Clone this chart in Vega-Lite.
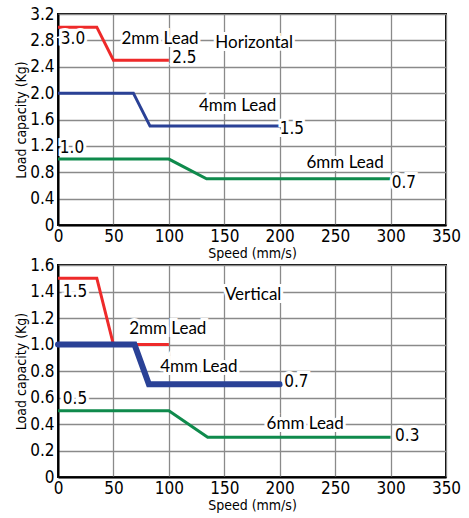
{
  "$schema": "https://vega.github.io/schema/vega-lite/v6.json",
  "padding": {"left": 13, "top": 4, "right": 5, "bottom": 5},
  "background": "white",
  "bounds": "flush",
  "spacing": 40,
  "config": {
    "view": {"stroke": "black", "strokeWidth": 2},
    "axis": {
      "labelFont": "DejaVu Sans Condensed",
      "labelFontSize": 17,
      "labelColor": "black",
      "titleFont": "DejaVu Sans Condensed",
      "titleFontSize": 14,
      "titleFontWeight": "normal",
      "titleColor": "black",
      "ticks": false,
      "domainColor": "black",
      "domainWidth": 2,
      "gridColor": "#8a8a8a",
      "gridWidth": 1.3,
      "gridOpacity": 1,
      "labelFlush": false,
      "labelOverlap": false
    }
  },
  "datasets": {
    "curves": [
      {"panel": "H", "lead": "2mm", "speed": 0, "load": 3.0},
      {"panel": "H", "lead": "2mm", "speed": 35, "load": 3.0},
      {"panel": "H", "lead": "2mm", "speed": 50, "load": 2.5},
      {"panel": "H", "lead": "2mm", "speed": 100, "load": 2.5},
      {"panel": "H", "lead": "4mm", "speed": 0, "load": 2.0},
      {"panel": "H", "lead": "4mm", "speed": 68, "load": 2.0},
      {"panel": "H", "lead": "4mm", "speed": 83, "load": 1.5},
      {"panel": "H", "lead": "4mm", "speed": 200, "load": 1.5},
      {"panel": "H", "lead": "6mm", "speed": 0, "load": 1.0},
      {"panel": "H", "lead": "6mm", "speed": 100, "load": 1.0},
      {"panel": "H", "lead": "6mm", "speed": 134, "load": 0.7},
      {"panel": "H", "lead": "6mm", "speed": 300, "load": 0.7},
      {"panel": "V", "lead": "2mm", "speed": 0, "load": 1.5},
      {"panel": "V", "lead": "2mm", "speed": 35, "load": 1.5},
      {"panel": "V", "lead": "2mm", "speed": 50, "load": 1.0},
      {"panel": "V", "lead": "2mm", "speed": 100, "load": 1.0},
      {"panel": "V", "lead": "4mm", "speed": 0, "load": 1.0},
      {"panel": "V", "lead": "4mm", "speed": 69, "load": 1.0},
      {"panel": "V", "lead": "4mm", "speed": 82, "load": 0.7},
      {"panel": "V", "lead": "4mm", "speed": 200, "load": 0.7},
      {"panel": "V", "lead": "6mm", "speed": 0, "load": 0.5},
      {"panel": "V", "lead": "6mm", "speed": 100, "load": 0.5},
      {"panel": "V", "lead": "6mm", "speed": 135, "load": 0.3},
      {"panel": "V", "lead": "6mm", "speed": 300, "load": 0.3}
    ],
    "notes": [
      {"panel": "H", "kind": "value", "label": "3.0", "speed": 13.5, "load": 2.82},
      {"panel": "H", "kind": "name", "label": "2mm Lead", "speed": 92, "load": 2.82},
      {"panel": "H", "kind": "value", "label": "2.5", "speed": 114, "load": 2.53},
      {"panel": "H", "kind": "name", "label": "Horizontal", "speed": 177, "load": 2.76},
      {"panel": "H", "kind": "name", "label": "4mm Lead", "speed": 162, "load": 1.8},
      {"panel": "H", "kind": "value", "label": "1.5", "speed": 211, "load": 1.46},
      {"panel": "H", "kind": "value", "label": "1.0", "speed": 12.6, "load": 1.17},
      {"panel": "H", "kind": "name", "label": "6mm Lead", "speed": 259, "load": 0.94},
      {"panel": "H", "kind": "value", "label": "0.7", "speed": 312, "load": 0.64},
      {"panel": "V", "kind": "value", "label": "1.5", "speed": 15.3, "load": 1.4},
      {"panel": "V", "kind": "name", "label": "Vertical", "speed": 176, "load": 1.37},
      {"panel": "V", "kind": "name", "label": "2mm Lead", "speed": 99, "load": 1.12},
      {"panel": "V", "kind": "name", "label": "4mm Lead", "speed": 127, "load": 0.83},
      {"panel": "V", "kind": "value", "label": "0.7", "speed": 215, "load": 0.72},
      {"panel": "V", "kind": "value", "label": "0.5", "speed": 15.3, "load": 0.59},
      {"panel": "V", "kind": "name", "label": "6mm Lead", "speed": 223, "load": 0.4},
      {"panel": "V", "kind": "value", "label": "0.3", "speed": 315, "load": 0.31}
    ]
  },
  "vconcat": [
    {
      "width": 388,
      "height": 211,
      "encoding": {
        "x": {"field": "speed", "type": "quantitative", "scale": {"domain": [0, 350], "nice": false},
              "axis": {"values": [0, 50, 100, 150, 200, 250, 300, 350], "format": "d", "title": "Speed (mm/s)", "labelPadding": 3, "titlePadding": 2}},
        "y": {"field": "load", "type": "quantitative", "scale": {"domain": [0, 3.2], "nice": false},
              "axis": {"values": [0, 0.4, 0.8, 1.2, 1.6, 2.0, 2.4, 2.8, 3.2], "labelExpr": "datum.value == 0 ? '0' : format(datum.value, '.1f')", "title": "Load capacity (Kg)", "labelPadding": 4, "titlePadding": 1}}
      },
      "layer": [
        {
          "data": {"name": "curves"},
          "transform": [{"filter": "datum.panel == 'H'"}],
          "mark": {"type": "line", "strokeWidth": 3, "strokeCap": "butt", "strokeJoin": "miter"},
          "encoding": {
            "color": {"field": "lead", "type": "nominal", "legend": null,
                      "scale": {"domain": ["2mm", "4mm", "6mm"], "range": ["#ee2a2a", "#2a4196", "#0f8a4c"]}}
          }
        },
        {
          "data": {"name": "notes"},
          "transform": [{"filter": "datum.panel == 'H' && datum.kind == 'value'"}],
          "layer": [
            {"mark": {"type": "text", "font": "DejaVu Sans Condensed", "fontSize": 17, "stroke": "white", "strokeWidth": 6, "fill": "white"},
             "encoding": {"text": {"field": "label"}}},
            {"mark": {"type": "text", "font": "DejaVu Sans Condensed", "fontSize": 17, "fill": "black"},
             "encoding": {"text": {"field": "label"}}}
          ]
        },
        {
          "data": {"name": "notes"},
          "transform": [{"filter": "datum.panel == 'H' && datum.kind == 'name'"}],
          "layer": [
            {"mark": {"type": "text", "font": "Lato", "fontSize": 17, "stroke": "white", "strokeWidth": 6, "fill": "white"},
             "encoding": {"text": {"field": "label"}}},
            {"mark": {"type": "text", "font": "Lato", "fontSize": 17, "fill": "black"},
             "encoding": {"text": {"field": "label"}}}
          ]
        }
      ]
    },
    {
      "width": 388,
      "height": 212,
      "encoding": {
        "x": {"field": "speed", "type": "quantitative", "scale": {"domain": [0, 350], "nice": false},
              "axis": {"values": [0, 50, 100, 150, 200, 250, 300, 350], "format": "d", "title": "Speed (mm/s)", "labelPadding": 3, "titlePadding": 2}},
        "y": {"field": "load", "type": "quantitative", "scale": {"domain": [0, 1.6], "nice": false},
              "axis": {"values": [0, 0.2, 0.4, 0.6, 0.8, 1.0, 1.2, 1.4, 1.6], "labelExpr": "datum.value == 0 ? '0' : format(datum.value, '.1f')", "title": "Load capacity (Kg)", "labelPadding": 4, "titlePadding": 1}}
      },
      "layer": [
        {
          "data": {"name": "curves"},
          "transform": [{"filter": "datum.panel == 'V' && datum.lead != '4mm'"}],
          "mark": {"type": "line", "strokeWidth": 3, "strokeCap": "butt", "strokeJoin": "miter"},
          "encoding": {
            "color": {"field": "lead", "type": "nominal", "legend": null,
                      "scale": {"domain": ["2mm", "4mm", "6mm"], "range": ["#ee2a2a", "#2a4196", "#0f8a4c"]}}
          }
        },
        {
          "data": {"name": "curves"},
          "transform": [{"filter": "datum.panel == 'V' && datum.lead == '4mm'"}],
          "mark": {"type": "line", "strokeWidth": 6, "strokeCap": "round", "strokeJoin": "miter"},
          "encoding": {
            "color": {"field": "lead", "type": "nominal", "legend": null,
                      "scale": {"domain": ["2mm", "4mm", "6mm"], "range": ["#ee2a2a", "#2a4196", "#0f8a4c"]}}
          }
        },
        {
          "data": {"name": "notes"},
          "transform": [{"filter": "datum.panel == 'V' && datum.kind == 'value'"}],
          "layer": [
            {"mark": {"type": "text", "font": "DejaVu Sans Condensed", "fontSize": 17, "stroke": "white", "strokeWidth": 6, "fill": "white"},
             "encoding": {"text": {"field": "label"}}},
            {"mark": {"type": "text", "font": "DejaVu Sans Condensed", "fontSize": 17, "fill": "black"},
             "encoding": {"text": {"field": "label"}}}
          ]
        },
        {
          "data": {"name": "notes"},
          "transform": [{"filter": "datum.panel == 'V' && datum.kind == 'name'"}],
          "layer": [
            {"mark": {"type": "text", "font": "Lato", "fontSize": 17, "stroke": "white", "strokeWidth": 6, "fill": "white"},
             "encoding": {"text": {"field": "label"}}},
            {"mark": {"type": "text", "font": "Lato", "fontSize": 17, "fill": "black"},
             "encoding": {"text": {"field": "label"}}}
          ]
        }
      ]
    }
  ]
}
